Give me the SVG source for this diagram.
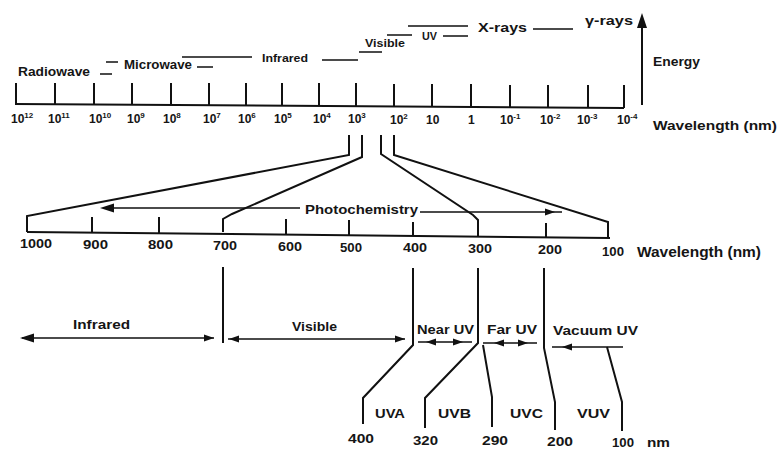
<svg xmlns="http://www.w3.org/2000/svg" xmlns:xlink="http://www.w3.org/1999/xlink" width="779" height="449" viewBox="0 0 779 449">
<style>
.ln{fill:none;stroke:#111;stroke-width:2;stroke-linejoin:miter;stroke-linecap:butt}
.th{fill:none;stroke:#111;stroke-width:1.6}
.t{font-family:"Liberation Sans",Arial,sans-serif;font-weight:bold;fill:#151515;font-size:12px}
.s{font-size:8px}
.hd{fill:#111}
</style>
<defs>
<path id="hl" d="M0,0 L10,-3.5 L10,3.5 Z"/>
<path id="hr" d="M0,0 L-10,-3.5 L-10,3.5 Z"/>
<path id="hlb" d="M0,0 L14,-4.5 L14,4.5 Z"/>
</defs>
<rect width="779" height="449" fill="#fff"/>

<g id="top-scale">
<path class="ln" d="M15,104 L624,108"/>
<path class="ln" d="M16,83 V104 M55,83 V104 M94,83 V105 M132,83 V105 M171,83 V105 M209,83 V105 M246,83 V106 M282,83 V106 M319,83 V106 M356,83 V106 M394,84 V107 M432,84 V107 M471,84 V107 M510,85 V107 M548,85 V108 M588,85 V108 M624,85 V108"/>
<g class="t">
<text x="11" y="123">10<tspan class="s" dy="-5">12</tspan></text>
<text x="48" y="123">10<tspan class="s" dy="-5">11</tspan></text>
<text x="89" y="123">10<tspan class="s" dy="-5">10</tspan></text>
<text x="127" y="123">10<tspan class="s" dy="-5">9</tspan></text>
<text x="163" y="123">10<tspan class="s" dy="-5">8</tspan></text>
<text x="203" y="123">10<tspan class="s" dy="-5">7</tspan></text>
<text x="238" y="123">10<tspan class="s" dy="-5">6</tspan></text>
<text x="274" y="123">10<tspan class="s" dy="-5">5</tspan></text>
<text x="313" y="123">10<tspan class="s" dy="-5">4</tspan></text>
<text x="348" y="123">10<tspan class="s" dy="-5">3</tspan></text>
<text x="390" y="124">10<tspan class="s" dy="-5">2</tspan></text>
<text x="426" y="124">10</text>
<text x="468" y="124">1</text>
<text x="500" y="124">10<tspan class="s" dy="-5">-1</tspan></text>
<text x="540" y="124">10<tspan class="s" dy="-5">-2</tspan></text>
<text x="577" y="124">10<tspan class="s" dy="-5">-3</tspan></text>
<text x="617" y="124">10<tspan class="s" dy="-5">-4</tspan></text>
<text x="653" y="130" font-size="13" textLength="124" lengthAdjust="spacingAndGlyphs">Wavelength (nm)</text>
</g>
</g>

<g id="regions">
<g class="t">
<text x="18" y="76" textLength="72" lengthAdjust="spacingAndGlyphs">Radiowave</text>
<text x="124" y="69" textLength="68" lengthAdjust="spacingAndGlyphs">Microwave</text>
<text x="262" y="62" font-size="11" textLength="46" lengthAdjust="spacingAndGlyphs">Infrared</text>
<text x="365" y="47" font-size="11" textLength="40" lengthAdjust="spacingAndGlyphs">Visible</text>
<text x="422" y="40" font-size="11" textLength="15" lengthAdjust="spacingAndGlyphs">UV</text>
<text x="478" y="32" textLength="49" lengthAdjust="spacingAndGlyphs">X-rays</text>
<text x="585" y="25" textLength="48" lengthAdjust="spacingAndGlyphs">γ-rays</text>
<text x="653" y="66" textLength="47" lengthAdjust="spacingAndGlyphs">Energy</text>
</g>
<path class="th" d="M100,74 H112 M106,62 H118 M197,67 H213 M182,57 H252 M322,60 H358 M359,52 H382 M387,35 H412 M408,26 H468 M443,36 H468 M533,29 H573"/>
</g>

<g id="energy-arrow">
<path class="ln" d="M642,105 V24"/>
<path class="hd" d="M642,13 L637,28 L647,28 Z"/>
</g>

<g id="connectors">
<path class="ln" d="M349,135 V155 L27,216 V232"/>
<path class="ln" d="M362,135 V157 L232,214 L223,219 V232"/>
<path class="ln" d="M381,135 V154 L473,215 L478,220 V237"/>
<path class="ln" d="M394,135 V155 L608,222 V238"/>
</g>

<g id="middle-scale">
<path class="ln" d="M27,232 L610,238"/>
<path class="ln" d="M92,217 V233 M159,217 V233 M286,219 V234 M349,220 V235 M413,222 V236 M546,223 V237"/>
<g class="t">
<text x="20" y="248" textLength="32" lengthAdjust="spacingAndGlyphs">1000</text>
<text x="83" y="249" textLength="25" lengthAdjust="spacingAndGlyphs">900</text>
<text x="148" y="249" textLength="25" lengthAdjust="spacingAndGlyphs">800</text>
<text x="213" y="250" textLength="24" lengthAdjust="spacingAndGlyphs">700</text>
<text x="278" y="251" textLength="24" lengthAdjust="spacingAndGlyphs">600</text>
<text x="340" y="252" textLength="22" lengthAdjust="spacingAndGlyphs">500</text>
<text x="403" y="252" textLength="24" lengthAdjust="spacingAndGlyphs">400</text>
<text x="468" y="253" textLength="24" lengthAdjust="spacingAndGlyphs">300</text>
<text x="538" y="254" textLength="24" lengthAdjust="spacingAndGlyphs">200</text>
<text x="602" y="256" textLength="22" lengthAdjust="spacingAndGlyphs">100</text>
<text x="637" y="257" font-size="14" textLength="124" lengthAdjust="spacingAndGlyphs">Wavelength (nm)</text>
</g>
</g>

<g id="photochemistry">
<path class="th" d="M104,208 H300 M420,212 H562"/>
<use xlink:href="#hlb" x="100" y="208" class="hd"/>
<use xlink:href="#hr" x="555" y="212" class="hd"/>
<text class="t" x="305" y="214" font-size="13" textLength="113" lengthAdjust="spacingAndGlyphs">Photochemistry</text>
</g>

<g id="bands">
<path class="ln" d="M223,267 V343"/>
<path class="ln" d="M413,268 V345 L363,398 V424"/>
<path class="ln" d="M478,268 V343 L425,398 V428"/>
<path class="ln" d="M483,345 L492,397 V427"/>
<path class="ln" d="M544,268 V348 L555,402 V430"/>
<path class="ln" d="M607,347 L622,402 V431"/>
<path class="th" d="M22,338 H214 M228,339 H405 M418,342 H472 M483,343 H537 M552,347 H623"/>
<use xlink:href="#hlb" x="20" y="338" class="hd"/>
<use xlink:href="#hr" x="214" y="338" class="hd"/>
<use xlink:href="#hl" x="229" y="339" class="hd"/>
<use xlink:href="#hr" x="405" y="339" class="hd"/>
<use xlink:href="#hl" x="426" y="342" class="hd"/>
<use xlink:href="#hr" x="463" y="342" class="hd"/>
<use xlink:href="#hl" x="494" y="343" class="hd"/>
<use xlink:href="#hr" x="528" y="343" class="hd"/>
<use xlink:href="#hl" x="562" y="347" class="hd"/>
<g class="t" font-size="13">
<text x="73" y="329" textLength="57" lengthAdjust="spacingAndGlyphs">Infrared</text>
<text x="292" y="331" textLength="45" lengthAdjust="spacingAndGlyphs">Visible</text>
<text x="417" y="334" textLength="57" lengthAdjust="spacingAndGlyphs">Near UV</text>
<text x="487" y="334" textLength="50" lengthAdjust="spacingAndGlyphs">Far UV</text>
<text x="553" y="335" textLength="85" lengthAdjust="spacingAndGlyphs">Vacuum UV</text>
<text x="375" y="418" textLength="30" lengthAdjust="spacingAndGlyphs">UVA</text>
<text x="438" y="418" textLength="33" lengthAdjust="spacingAndGlyphs">UVB</text>
<text x="510" y="418" textLength="33" lengthAdjust="spacingAndGlyphs">UVC</text>
<text x="577" y="418" textLength="33" lengthAdjust="spacingAndGlyphs">VUV</text>
<text x="348" y="443" textLength="26" lengthAdjust="spacingAndGlyphs">400</text>
<text x="413" y="445" textLength="25" lengthAdjust="spacingAndGlyphs">320</text>
<text x="482" y="445" textLength="26" lengthAdjust="spacingAndGlyphs">290</text>
<text x="547" y="446" textLength="26" lengthAdjust="spacingAndGlyphs">200</text>
<text x="612" y="447" textLength="22" lengthAdjust="spacingAndGlyphs">100</text>
<text x="647" y="447" textLength="23" lengthAdjust="spacingAndGlyphs">nm</text>
</g>
</g>
</svg>
